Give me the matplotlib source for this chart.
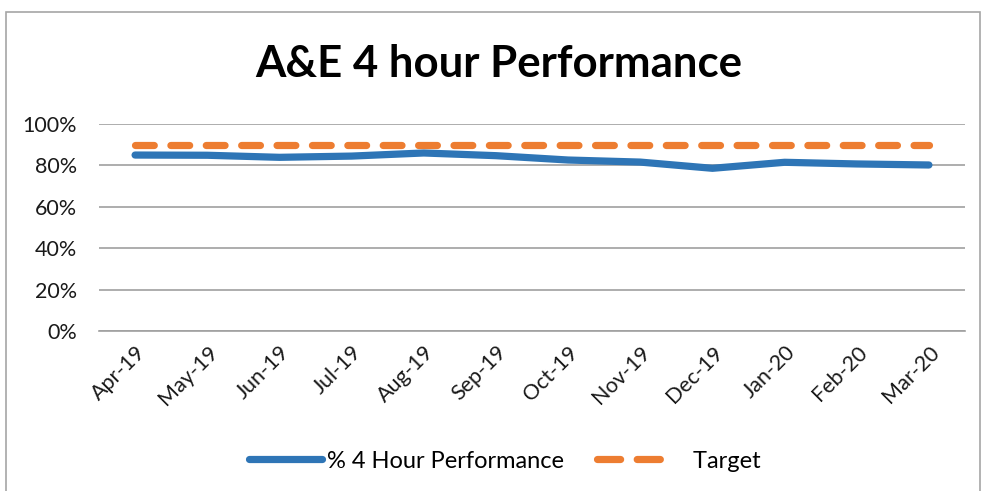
import matplotlib.pyplot as plt
from matplotlib.patches import Rectangle
from matplotlib.ticker import PercentFormatter

# Data
months = ["Apr-19", "May-19", "Jun-19", "Jul-19", "Aug-19", "Sep-19",
          "Oct-19", "Nov-19", "Dec-19", "Jan-20", "Feb-20", "Mar-20"]
performance = [0.850, 0.849, 0.839, 0.845, 0.860, 0.847,
               0.826, 0.816, 0.786, 0.815, 0.807, 0.802]
target = [0.90] * 12

plt.rcParams['font.family'] = ['Lato', 'DejaVu Sans']

W, H = 981, 491
fig = plt.figure(figsize=(W / 100, H / 100), dpi=100)

# chart border
fig.patches.append(Rectangle((6 / W, -0.05), 974 / W, 1.05 - 12 / H,
                             transform=fig.transFigure, fill=False,
                             edgecolor="#a6a6a6", linewidth=1.2))

ax = fig.add_axes([99 / W, 1 - 331 / H, (965 - 99) / W, (331 - 124) / H])

x = range(len(months))
ax.plot(x, performance, color="#2e75b6", linewidth=5.2,
        solid_capstyle="round", solid_joinstyle="round",
        label="% 4 Hour Performance")
ax.plot(x, target, color="#ed7d31", linewidth=5.2,
        linestyle=(0, (2.6, 2.3)), dash_capstyle="round",
        label="Target")

ax.set_xlim(-0.5, len(months) - 0.5)
ax.set_ylim(0, 1)
ax.set_yticks([0, 0.2, 0.4, 0.6, 0.8, 1.0])
ax.yaxis.set_major_formatter(PercentFormatter(1.0, decimals=0))
ax.set_xticks(list(x))
ax.set_xticklabels(months, rotation=45, ha="right", rotation_mode="anchor")

ax.grid(axis="y", color="#a0a0a0", linewidth=1.2)
ax.set_axisbelow(True)
for s in ["top", "right", "left"]:
    ax.spines[s].set_visible(False)
ax.spines["bottom"].set_color("#a0a0a0")
ax.spines["bottom"].set_linewidth(1.2)
ax.tick_params(axis="both", length=0, labelsize=15.5, colors="#1a1a1a")
ax.tick_params(axis="y", pad=16)
ax.tick_params(axis="x", pad=8)

fig.text(499 / W, 1 - 64 / H, "A&E 4 hour Performance", ha="center",
         va="center", fontsize=31.5, fontweight="bold", color="black")

leg = fig.legend(loc="center", bbox_to_anchor=(505 / W, 1 - 461 / H),
                 ncol=2, frameon=False, fontsize=17, handlelength=3.1,
                 columnspacing=1.4, handletextpad=0.2)
leg.get_texts()[1].set_text("   Target")
# two whole dashes in the legend key, like the original
leg.get_lines()[1].set_dashes([3.2, 2.3])

fig.savefig("out.png", dpi=100)
